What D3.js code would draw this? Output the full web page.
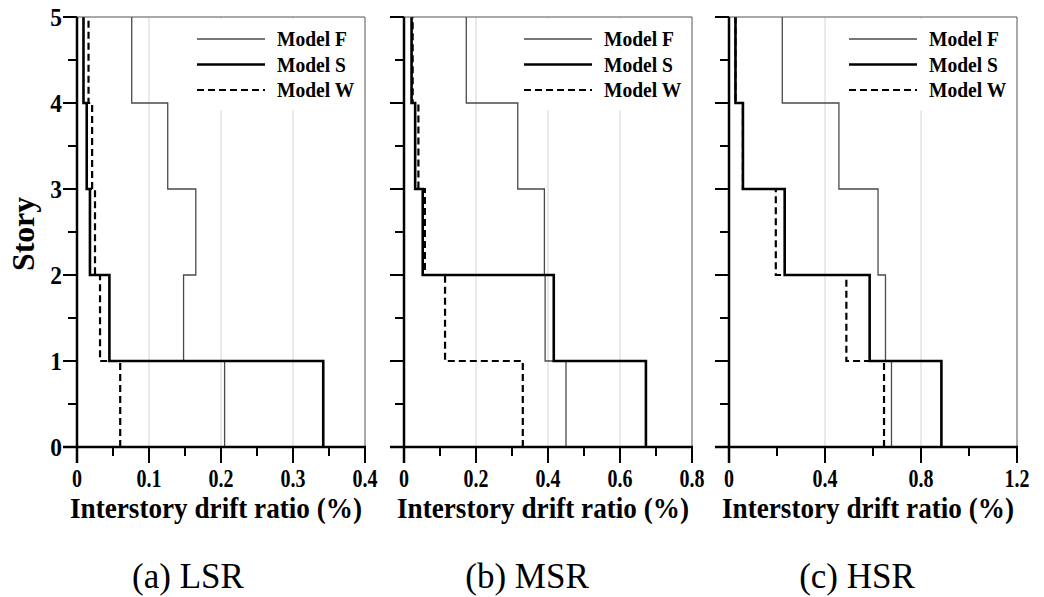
<!DOCTYPE html>
<html>
<head>
<meta charset="utf-8">
<script src="https://cdn.jsdelivr.net/npm/d3@7"></script>
<style>
  body { margin: 0; background: #fff; }
  svg { display: block; }
</style>
</head>
<body>
<svg width="1044" height="597"></svg>
<script>
// story boundaries (0 = ground, 5 = roof)
const storyTicks = [0, 1, 2, 3, 4, 5];

// drift ratio (%) per story, story 1 .. story 5
const lsrF = [0.205, 0.148, 0.165, 0.126, 0.076];
const lsrS = [0.342, 0.045, 0.018, 0.0135, 0.009];
const lsrW = [0.060, 0.032, 0.025, 0.021, 0.016];

const msrF = [0.450, 0.392, 0.390, 0.316, 0.173];
const msrS = [0.672, 0.416, 0.052, 0.031, 0.021];
const msrW = [0.330, 0.114, 0.058, 0.040, 0.024];

const hsrF = [0.677, 0.652, 0.621, 0.458, 0.222];
const hsrS = [0.885, 0.586, 0.232, 0.058, 0.027];
const hsrW = [0.646, 0.489, 0.195, 0.058, 0.027];

const modelNames = ["Model F", "Model S", "Model W"];

const panels = [
  { caption: "(a) LSR", xMax: 0.4, major: [0, 0.1, 0.2, 0.3, 0.4], minor: [0.05, 0.15, 0.25, 0.35],
    labels: ["0", "0.1", "0.2", "0.3", "0.4"], series: [lsrF, lsrS, lsrW], left: 77, showY: true },
  { caption: "(b) MSR", xMax: 0.8, major: [0, 0.2, 0.4, 0.6, 0.8], minor: [0.1, 0.3, 0.5, 0.7],
    labels: ["0", "0.2", "0.4", "0.6", "0.8"], series: [msrF, msrS, msrW], left: 404, showY: false },
  { caption: "(c) HSR", xMax: 1.2, major: [0, 0.4, 0.8, 1.2], minor: [0.2, 0.6, 1.0],
    labels: ["0", "0.4", "0.8", "1.2"], series: [hsrF, hsrS, hsrW], left: 729, showY: false }
];

const styles = [
  { stroke: "#4a4a4a", width: 1.3, dash: null },
  { stroke: "#000", width: 2.6, dash: null },
  { stroke: "#000", width: 2.2, dash: "7,4" }
];

const svg = d3.select("svg");
const plotW = 288, plotTop = 17, plotBottom = 447;
const serif = "'Liberation Serif', 'Times New Roman', serif";

const y = d3.scaleLinear().domain([0, 5]).range([plotBottom, plotTop]);

// squeeze text horizontally (the figure's lettering is tall and narrow)
function squeeze(sel, factor) {
  sel.each(function () {
    const w = this.getComputedTextLength();
    d3.select(this).attr("textLength", w * factor).attr("lengthAdjust", "spacingAndGlyphs");
  });
}

panels.forEach((p, pi) => {
  const x = d3.scaleLinear().domain([0, p.xMax]).range([p.left, p.left + plotW]);
  const g = svg.append("g");

  // light vertical grid at major ticks
  g.selectAll(null).data(p.major.slice(1, -1)).enter().append("line")
    .attr("x1", d => x(d)).attr("x2", d => x(d))
    .attr("y1", plotTop).attr("y2", plotBottom)
    .attr("stroke", "#d4d4d4").attr("stroke-width", 1);

  // legend background covers grid
  g.append("rect")
    .attr("x", x(0) + 110).attr("y", plotTop + 1.5)
    .attr("width", plotW - 111.5).attr("height", 92)
    .attr("fill", "#fff");

  // step profiles
  p.series.forEach((vals, si) => {
    const pts = [];
    vals.forEach((v, i) => { pts.push([v, i]); pts.push([v, i + 1]); });
    const line = d3.line().x(d => x(d[0])).y(d => y(d[1]));
    g.append("path")
      .attr("d", line(pts))
      .attr("fill", "none")
      .attr("stroke", styles[si].stroke)
      .attr("stroke-width", styles[si].width)
      .attr("stroke-dasharray", styles[si].dash);
  });

  // frame top / right
  g.append("line").attr("x1", x(0)).attr("x2", x(p.xMax)).attr("y1", plotTop).attr("y2", plotTop)
    .attr("stroke", "#555").attr("stroke-width", 1);
  g.append("line").attr("x1", x(p.xMax)).attr("x2", x(p.xMax)).attr("y1", plotTop).attr("y2", plotBottom)
    .attr("stroke", "#555").attr("stroke-width", 1);

  // x axis
  const xAxis = g.append("g").attr("transform", `translate(0,${plotBottom})`);
  xAxis.append("line").attr("x1", x(0) - 14).attr("x2", x(p.xMax) + 1)
    .attr("stroke", "#000").attr("stroke-width", 2.5);
  xAxis.selectAll(".maj").data(p.major).enter().append("line")
    .attr("x1", d => x(d)).attr("x2", d => x(d)).attr("y1", 0).attr("y2", 16)
    .attr("stroke", "#000").attr("stroke-width", 2);
  xAxis.selectAll(".min").data(p.minor).enter().append("line")
    .attr("x1", d => x(d)).attr("x2", d => x(d)).attr("y1", 0).attr("y2", 9)
    .attr("stroke", "#000").attr("stroke-width", 2);
  xAxis.selectAll(".lab").data(p.major).enter().append("text")
    .attr("x", d => x(d)).attr("y", 40)
    .attr("text-anchor", "middle")
    .attr("font-family", serif).attr("font-weight", "bold").attr("font-size", 25)
    .text((d, i) => p.labels[i])
    .call(squeeze, 0.8);

  g.append("text")
    .attr("x", x(p.xMax / 2) - 5).attr("y", plotBottom + 71)
    .attr("text-anchor", "middle")
    .attr("font-family", serif).attr("font-weight", "bold").attr("font-size", 29)
    .attr("textLength", 292).attr("lengthAdjust", "spacingAndGlyphs")
    .text("Interstory drift ratio (%)");

  // y axis
  const yAxis = g.append("g").attr("transform", `translate(${x(0)},0)`);
  yAxis.append("line").attr("y1", plotTop).attr("y2", plotBottom + 16)
    .attr("stroke", "#000").attr("stroke-width", 2.5);
  yAxis.selectAll(".maj").data(storyTicks).enter().append("line")
    .attr("x1", -14).attr("x2", 0).attr("y1", d => y(d)).attr("y2", d => y(d))
    .attr("stroke", "#000").attr("stroke-width", 2);
  yAxis.selectAll(".min").data(storyTicks.slice(0, -1)).enter().append("line")
    .attr("x1", -9).attr("x2", 0).attr("y1", d => y(d + 0.5)).attr("y2", d => y(d + 0.5))
    .attr("stroke", "#000").attr("stroke-width", 2);
  if (p.showY) {
    yAxis.selectAll(".lab").data(storyTicks).enter().append("text")
      .attr("x", -15).attr("y", d => y(d)).attr("dy", "0.35em")
      .attr("text-anchor", "end")
      .attr("font-family", serif).attr("font-weight", "bold").attr("font-size", 26)
      .text(d => d)
      .call(squeeze, 0.9);
    svg.append("text")
      .attr("transform", `translate(34,${y(2.5) + 2}) rotate(-90)`)
      .attr("text-anchor", "middle")
      .attr("font-family", serif).attr("font-weight", "bold").attr("font-size", 31)
      .attr("textLength", 74).attr("lengthAdjust", "spacingAndGlyphs")
      .text("Story");
  }

  // legend
  const leg = g.append("g").attr("transform", `translate(${x(0) + 120},0)`);
  modelNames.forEach((name, i) => {
    const ly = 39 + i * 25.5;
    leg.append("line").attr("x1", 0).attr("x2", 68).attr("y1", ly).attr("y2", ly)
      .attr("stroke", styles[i].stroke).attr("stroke-width", styles[i].width)
      .attr("stroke-dasharray", styles[i].dash);
    leg.append("text").attr("x", 80).attr("y", ly).attr("dy", "0.35em")
      .attr("font-family", serif).attr("font-weight", "bold").attr("font-size", 21)
      .text(name)
      .call(squeeze, 0.93);
  });

  // caption
  svg.append("text")
    .attr("x", [188, 527, 857][pi]).attr("y", 588)
    .attr("text-anchor", "middle")
    .attr("font-family", serif).attr("font-size", 35)
    .text(p.caption);
});
</script>
</body>
</html>
